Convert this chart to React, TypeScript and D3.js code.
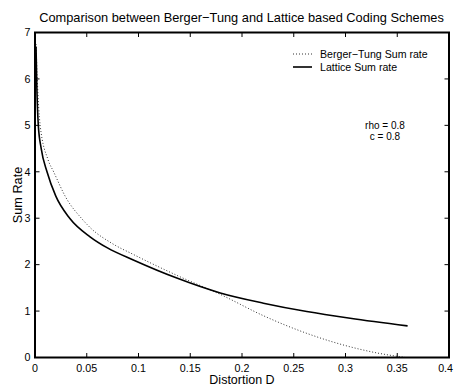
import { useEffect, useRef } from 'react'
import * as d3 from 'd3'

const title = 'Comparison between Berger\u2212Tung and Lattice based Coding Schemes'
const xLabel = 'Distortion D'
const yLabel = 'Sum Rate'

const xTicks = [0, 0.05, 0.1, 0.15, 0.2, 0.25, 0.3, 0.35, 0.4]
const xTickLabels = ['0', '0.05', '0.1', '0.15', '0.2', '0.25', '0.3', '0.35', '0.4']
const yTicks = [0, 1, 2, 3, 4, 5, 6, 7]

// Berger-Tung sum rate (dotted)
const btD = [0.001, 0.0022, 0.005, 0.0126, 0.018, 0.03, 0.0448, 0.0532, 0.075, 0.095, 0.137, 0.179, 0.2207, 0.2626, 0.3045, 0.33, 0.358]
const btR = [6.75, 6.0, 5.0, 4.26, 4.0, 3.44, 3.0, 2.8, 2.45, 2.22, 1.77, 1.36, 0.9, 0.52, 0.23, 0.1, 0.0]

// Lattice sum rate (solid)
const latD = [0.001, 0.0016, 0.0032, 0.006, 0.0116, 0.02, 0.0335, 0.0532, 0.07, 0.095, 0.137, 0.179, 0.2207, 0.2626, 0.3045, 0.36]
const latR = [6.7, 6.0, 5.0, 4.5, 4.0, 3.48, 3.0, 2.6, 2.36, 2.1, 1.71, 1.39, 1.17, 0.99, 0.845, 0.68]

const legendItems = ['Berger\u2212Tung Sum rate', 'Lattice Sum rate']
const notes = ['rho = 0.8', 'c = 0.8']

export default function App() {
  const ref = useRef<SVGSVGElement>(null)

  useEffect(() => {
    if (!ref.current) return
    const width = 454
    const height = 387
    const margin = { top: 32.5, right: 5, bottom: 29.5, left: 35 }
    const w = width - margin.left - margin.right
    const h = height - margin.top - margin.bottom
    const font = '"Liberation Sans", Arial, Helvetica, sans-serif'

    const root = d3.select(ref.current)
    root.selectAll('*').remove()
    root.append('rect').attr('width', width).attr('height', height).attr('fill', '#fff')

    const svg = root.append('g').attr('transform', `translate(${margin.left}, ${margin.top})`)

    const x = d3.scaleLinear().domain([0, 0.4]).range([0, w])
    const y = d3.scaleLinear().domain([0, 7]).range([h, 0])

    // inward ticks on all four sides
    const tickLen = 4.5
    xTicks.slice(1, -1).forEach((t) => {
      svg.append('line').attr('x1', x(t)).attr('x2', x(t)).attr('y1', h).attr('y2', h - tickLen)
        .attr('stroke', '#000').attr('stroke-width', 1)
      svg.append('line').attr('x1', x(t)).attr('x2', x(t)).attr('y1', 0).attr('y2', tickLen)
        .attr('stroke', '#000').attr('stroke-width', 1)
    })
    yTicks.slice(1, -1).forEach((t) => {
      svg.append('line').attr('x1', 0).attr('x2', tickLen).attr('y1', y(t)).attr('y2', y(t))
        .attr('stroke', '#000').attr('stroke-width', 1)
      svg.append('line').attr('x1', w).attr('x2', w - tickLen).attr('y1', y(t)).attr('y2', y(t))
        .attr('stroke', '#000').attr('stroke-width', 1)
    })

    const line = d3.line<[number, number]>()
      .x((d) => x(d[0]))
      .y((d) => y(d[1]))
      .curve(d3.curveMonotoneX)

    svg.append('path')
      .datum(btD.map((d, i) => [d, btR[i]] as [number, number]))
      .attr('fill', 'none')
      .attr('stroke', '#333')
      .attr('stroke-width', 1)
      .attr('stroke-dasharray', '1,2')
      .attr('d', line)

    svg.append('path')
      .datum(latD.map((d, i) => [d, latR[i]] as [number, number]))
      .attr('fill', 'none')
      .attr('stroke', '#000')
      .attr('stroke-width', 1.6)
      .attr('d', line)

    // axes box
    svg.append('rect').attr('width', w).attr('height', h)
      .attr('fill', 'none').attr('stroke', '#000').attr('stroke-width', 2)

    xTicks.forEach((t, i) => {
      const last = i === xTicks.length - 1
      svg.append('text').attr('x', last ? w + 4 : x(t)).attr('y', h + 14.5)
        .attr('text-anchor', last ? 'end' : 'middle')
        .style('font-family', font).style('font-size', '10.7px')
        .text(xTickLabels[i])
    })
    yTicks.forEach((t) => {
      svg.append('text').attr('x', -4.5).attr('y', y(t)).attr('dy', '0.35em')
        .attr('text-anchor', 'end').style('font-family', font).style('font-size', '10.7px')
        .text(String(t))
    })

    root.append('text').attr('x', 241.5).attr('y', 21.5).attr('text-anchor', 'middle')
      .style('font-family', font).style('font-size', '12.8px').text(title)
    root.append('text').attr('x', margin.left + w / 2).attr('y', 384)
      .attr('text-anchor', 'middle').style('font-family', font).style('font-size', '12.5px').text(xLabel)
    root.append('text').attr('transform', 'translate(21.5, 195) rotate(-90)')
      .attr('text-anchor', 'middle').style('font-family', font).style('font-size', '12.7px').text(yLabel)

    // legend
    const legend = root.append('g').attr('transform', 'translate(293, 54)')
    legendItems.forEach((label, i) => {
      legend.append('line').attr('x1', 0).attr('x2', 19).attr('y1', i * 13).attr('y2', i * 13)
        .attr('stroke', i === 0 ? '#333' : '#000')
        .attr('stroke-width', i === 0 ? 1 : 1.6)
        .attr('stroke-dasharray', i === 0 ? '1,2' : null)
      legend.append('text').attr('x', 27).attr('y', i * 13).attr('dy', '0.35em')
        .style('font-family', font).style('font-size', '10.6px').text(label)
    })

    notes.forEach((n, i) => {
      root.append('text').attr('x', 385).attr('y', 129 + i * 11).attr('text-anchor', 'middle')
        .style('font-family', font).style('font-size', '10px').text(n)
    })
  }, [])

  return (
    <div style={{ position: 'absolute', left: 0, top: 0 }}>
      <svg ref={ref} width={454} height={387} style={{ display: 'block' }} />
    </div>
  )
}
